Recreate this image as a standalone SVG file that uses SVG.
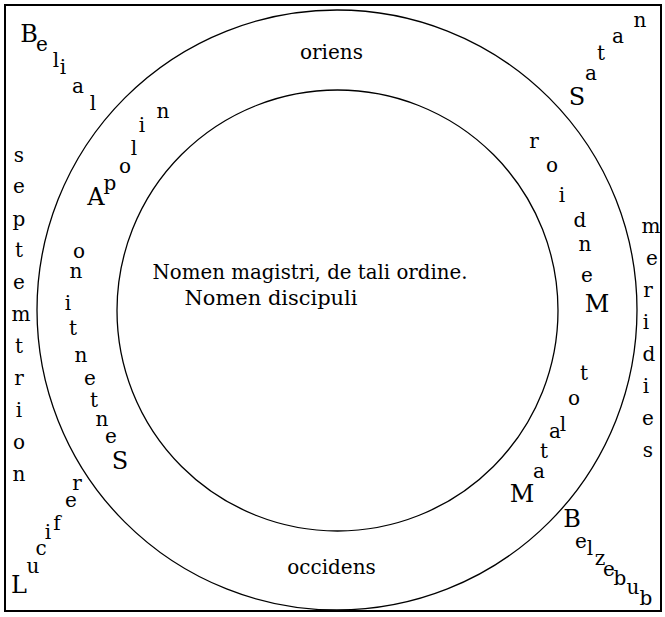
<svg xmlns="http://www.w3.org/2000/svg" width="665" height="617" viewBox="0 0 665 617">
<style>
.ln{fill:none;stroke:#000;stroke-width:1.3}
.bd{fill:none;stroke:#000;stroke-width:2}
text{font-family:"DejaVu Serif","Liberation Serif",serif;font-size:20px;fill:#000;text-anchor:middle}
.cap{font-size:24px}
</style>
<rect width="665" height="617" fill="#fff"/>
<rect class="bd" x="5" y="5" width="656" height="606"/>
<g id="circles">
<circle class="ln" cx="337" cy="310" r="300"/>
<circle class="ln" cx="337.5" cy="310.5" r="220.5"/>
</g>
<g id="center">
<text x="310" y="279" textLength="315" lengthAdjust="spacingAndGlyphs">Nomen magistri, de tali ordine.</text>
<text x="271" y="305" textLength="173" lengthAdjust="spacingAndGlyphs">Nomen discipuli</text>
</g>
<g id="oriens"><text x="331.5" y="59">oriens</text></g>
<g id="occidens"><text x="331.5" y="574">occidens</text></g>
<g id="septemtrion">
<text x="19" y="162">s</text><text x="19" y="193">e</text><text x="19" y="226">p</text><text x="19" y="257">t</text><text x="19" y="289">e</text><text x="21" y="321">m</text><text x="19" y="353">t</text><text x="19" y="385">r</text><text x="19" y="417">i</text><text x="19" y="449">o</text><text x="19" y="481">n</text>
</g>
<g id="meridies">
<text x="651" y="233">m</text><text x="652" y="265">e</text><text x="648" y="297">r</text><text x="646" y="329">i</text><text x="649" y="361">d</text><text x="646" y="393">i</text><text x="648" y="425">e</text><text x="648" y="457">s</text>
</g>
<g id="belial">
<text class="cap" x="29" y="42">B</text><text x="42" y="51">e</text><text x="56" y="67">l</text><text x="63" y="74">i</text><text x="78" y="93">a</text><text x="93" y="110">l</text>
</g>
<g id="satan">
<text class="cap" x="577" y="105">S</text><text x="591" y="80">a</text><text x="601" y="60">t</text><text x="618" y="43">a</text><text x="640" y="27">n</text>
</g>
<g id="lucifer">
<text class="cap" x="19" y="593">L</text><text x="33" y="573">u</text><text x="41" y="555">c</text><text x="48" y="539">i</text><text x="57" y="530">f</text><text x="71" y="507">e</text><text x="77" y="490">r</text>
</g>
<g id="belzebub">
<text class="cap" x="572" y="527">B</text><text x="581" y="548">e</text><text x="590" y="555">l</text><text x="600" y="565">z</text><text x="609" y="576">e</text><text x="620" y="585">b</text><text x="633" y="594">u</text><text x="646" y="605">b</text>
</g>
<g id="apolin">
<text class="cap" x="96" y="205">A</text><text x="110" y="190">p</text><text x="125" y="173">o</text><text x="134" y="155">l</text><text x="142" y="132">i</text><text x="163" y="118">n</text>
</g>
<g id="sentention">
<text class="cap" x="120" y="469">S</text><text x="111" y="443">e</text><text x="102" y="426">n</text><text x="94" y="407">t</text><text x="90" y="385">e</text><text x="81" y="362">n</text><text x="73" y="335">t</text><text x="68" y="310">i</text><text x="76" y="278">n</text><text x="79" y="258">o</text>
</g>
<g id="mendior">
<text class="cap" x="597" y="312">M</text><text x="587" y="282">e</text><text x="585" y="251">n</text><text x="580" y="227">d</text><text x="562" y="202">i</text><text x="552" y="172">o</text><text x="534" y="148">r</text>
</g>
<g id="matalot">
<text class="cap" x="522" y="502">M</text><text x="539" y="478">a</text><text x="544" y="458">t</text><text x="555" y="438">a</text><text x="563" y="431">l</text><text x="574" y="405">o</text><text x="584" y="380">t</text>
</g>
</svg>
